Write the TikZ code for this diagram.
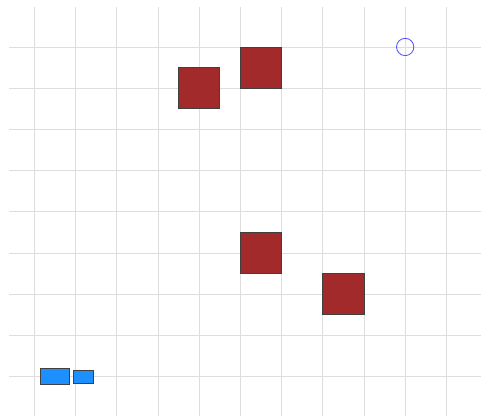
\documentclass[tikz,border=0pt]{standalone}
\usetikzlibrary{shapes.geometric}
\definecolor{gridgray}{HTML}{DDDDDD}
\definecolor{boxred}{HTML}{A32A2A}
\definecolor{boxblue}{HTML}{1E8FFF}
\definecolor{ringblue}{HTML}{5555FF}
\tikzset{
  gridline/.style={draw=gridgray, line width=0.5pt},
  redbox/.style={draw=black!75, fill=boxred, line width=0.6pt, rectangle, inner sep=0pt, minimum width=1cm, minimum height=1cm},
  bluebox/.style={draw=black!75, fill=boxblue, line width=0.6pt, rectangle, inner sep=0pt},
  ring/.style={draw=ringblue, line width=0.6pt, circle, inner sep=0pt, minimum size=0.42cm},
}
\begin{document}
\begin{tikzpicture}
\useasboundingbox[fill=white] (-0.833,-0.96) rectangle (10.84,9.14);
\foreach \i in {0,...,10} \draw[gridline] (\i,-0.96) -- (\i,8.97);
\foreach \j in {0,...,8} \draw[gridline] (-0.614,\j) -- (10.84,\j);
\node[redbox] (r1) at (4,7) {};
\node[redbox] (r2) at (5.5,7.5) {};
\node[redbox] (r3) at (5.5,3) {};
\node[redbox] (r4) at (7.5,2) {};
\node[ring] (c1) at (9,8) {};
\node[bluebox, minimum width=0.71cm, minimum height=0.38cm] (b1) at (0.495,0) {};
\node[bluebox, minimum width=0.5cm, minimum height=0.31cm] (b2) at (1.19,0) {};
\end{tikzpicture}
\end{document}
